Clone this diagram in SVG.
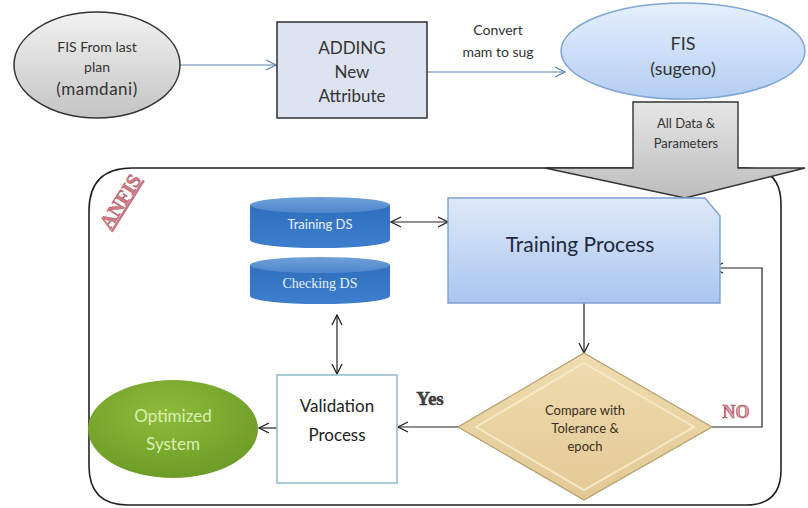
<svg xmlns="http://www.w3.org/2000/svg" width="808" height="508" viewBox="0 0 808 508">
<defs>
<linearGradient id="gGray" x1="0" y1="0" x2="0" y2="1"><stop offset="0" stop-color="#f2f2f2"/><stop offset="1" stop-color="#c4c4c4"/></linearGradient>
<linearGradient id="gFis" x1="0" y1="0" x2="0" y2="1"><stop offset="0" stop-color="#e6f0fd"/><stop offset="1" stop-color="#b4cdf3"/></linearGradient>
<linearGradient id="gArrow" x1="0" y1="0" x2="0" y2="1"><stop offset="0" stop-color="#e6e6e6"/><stop offset="1" stop-color="#bdbdbd"/></linearGradient>
<linearGradient id="gTrain" x1="0" y1="0" x2="0" y2="1"><stop offset="0" stop-color="#dfe9f8"/><stop offset="1" stop-color="#a9c6f1"/></linearGradient>
<linearGradient id="gCyl" x1="0" y1="0" x2="0" y2="1"><stop offset="0" stop-color="#2f6fbd"/><stop offset="1" stop-color="#3d7fce"/></linearGradient>
<linearGradient id="gCylTop" x1="0" y1="0" x2="0" y2="1"><stop offset="0" stop-color="#6fa0da"/><stop offset="1" stop-color="#4f87cc"/></linearGradient>
<radialGradient id="gGreen" cx="0.45" cy="0.35" r="0.7"><stop offset="0" stop-color="#8ebc3a"/><stop offset="1" stop-color="#6a9a25"/></radialGradient>
<linearGradient id="gDia" x1="0" y1="0" x2="0" y2="1"><stop offset="0" stop-color="#efdcaf"/><stop offset="1" stop-color="#e3c995"/></linearGradient>
<marker id="ah" viewBox="0 0 12 12" refX="11" refY="6" markerWidth="12" markerHeight="12" markerUnits="userSpaceOnUse" orient="auto-start-reverse">
<path d="M1,1 L11,6 L1,11" fill="none" stroke="#222" stroke-width="1.3"/>
</marker>
<marker id="ahb" viewBox="0 0 12 12" refX="11" refY="6" markerWidth="12" markerHeight="12" markerUnits="userSpaceOnUse" orient="auto">
<path d="M1,1 L11,6 L1,11" fill="none" stroke="#5b84b0" stroke-width="1.3"/>
</marker>
<style>
.t{font-family:Lato,"Open Sans","Liberation Sans",sans-serif;text-anchor:middle;fill:#333}
.c{fill:none;stroke:#222;stroke-width:1.2}
.cb{fill:none;stroke:#5b84b0;stroke-width:1.2}
</style>
</defs>

<g id="anfis-frame">
<path d="M132,168 L745,168 Q781,168 781,204 L781,470 Q781,505 746,505 L128,505 Q89,505 89,466 L89,211 Q89,168 132,168 Z" fill="#fff" stroke="#222" stroke-width="1.6"/>
<text x="126" y="205" transform="rotate(-58 126 205)" font-family="Liberation Serif,serif" font-weight="bold" font-size="20" fill="#d07a85" stroke="#a84050" stroke-width="0.4" text-anchor="middle" text-decoration="underline">ANFIS</text>
</g>

<g id="big-arrow">
<path d="M633,102 L738,102 L738,168 L805,168 L685,198 L545,168 L633,168 Z" fill="url(#gArrow)" stroke="#333" stroke-width="1.4"/>
<text class="t" x="686" y="128" font-size="13">All Data &amp;</text>
<text class="t" x="686" y="148" font-size="13">Parameters</text>
</g>

<g id="connectors">
<line class="cb" x1="180" y1="65" x2="276" y2="65" marker-end="url(#ahb)"/>
<line class="cb" x1="427" y1="72" x2="565" y2="72" marker-end="url(#ahb)"/>
<line class="c" x1="391" y1="222" x2="448" y2="222" marker-start="url(#ah)" marker-end="url(#ah)"/>
<line class="c" x1="584" y1="303" x2="584" y2="353" marker-end="url(#ah)"/>
<polyline class="c" points="712,427 762,427 762,268 713,268" marker-end="url(#ah)"/>
<line class="c" x1="458" y1="427" x2="398" y2="427" marker-end="url(#ah)"/>
<line class="c" x1="337" y1="315" x2="337" y2="374" marker-start="url(#ah)" marker-end="url(#ah)"/>
<line class="c" x1="277" y1="428" x2="259" y2="428" marker-end="url(#ah)"/>
</g>

<g id="fis-mamdani">
<ellipse cx="97" cy="65" rx="83" ry="53" fill="url(#gGray)" stroke="#333" stroke-width="1.5"/>
<text class="t" x="97" y="52" font-size="14">FIS From last</text>
<text class="t" x="97" y="72" font-size="14">plan</text>
<text class="t" x="97" y="95" font-size="17" letter-spacing="0.5">(mamdani)</text>
</g>

<g id="adding">
<rect x="277" y="22" width="150" height="96" fill="#dde3f0" stroke="#222" stroke-width="1.4"/>
<text class="t" x="352" y="54" font-size="17">ADDING</text>
<text class="t" x="352" y="78" font-size="17">New</text>
<text class="t" x="352" y="102" font-size="17">Attribute</text>
</g>

<g id="convert-label">
<text class="t" x="498" y="35" font-size="14">Convert</text>
<text class="t" x="498" y="57" font-size="14">mam  to sug</text>
</g>

<g id="fis-sugeno">
<ellipse cx="683" cy="51" rx="122" ry="48" fill="url(#gFis)" stroke="#7fa6d6" stroke-width="1.5"/>
<text class="t" x="683" y="50" font-size="18">FIS</text>
<text class="t" x="683" y="75" font-size="18">(sugeno)</text>
</g>

<g id="training-ds">
<path d="M250,205 L250,240 A70,8 0 0 0 390,240 L390,205 Z" fill="url(#gCyl)"/>
<ellipse cx="320" cy="205" rx="70" ry="8" fill="url(#gCylTop)"/>
<text class="t" x="320" y="229" font-size="13" style="fill:#e8f0fb">Training DS</text>
</g>

<g id="checking-ds">
<path d="M250,265 L250,296 A70,8 0 0 0 390,296 L390,265 Z" fill="url(#gCyl)"/>
<ellipse cx="320" cy="265" rx="70" ry="8" fill="url(#gCylTop)"/>
<text x="320" y="288" font-family="'Liberation Serif',serif" font-size="14" fill="#e8f0fb" text-anchor="middle">Checking DS</text>
</g>

<g id="training-process">
<path d="M448,198 L705,198 L720,216 L720,303 L448,303 Z" fill="url(#gTrain)" stroke="#7f9fcc" stroke-width="1.4"/>
<text class="t" x="580" y="252" font-size="21" style="fill:#1f2840">Training Process</text>
</g>

<g id="compare">
<polygon points="584,353 712,427 584,500 458,427" fill="url(#gDia)" stroke="#b59d6a" stroke-width="1.2"/>
<polygon points="584,363 694,427 584,490 476,427" fill="none" stroke="#f6e9c8" stroke-width="2"/>
<text class="t" x="585" y="415" font-size="13" style="fill:#3a3020">Compare with</text>
<text class="t" x="585" y="433" font-size="13" style="fill:#3a3020">Tolerance &amp;</text>
<text class="t" x="585" y="451" font-size="13" style="fill:#3a3020">epoch</text>
</g>

<g id="yes-label">
<text x="430" y="405" font-family="'Liberation Serif',serif" font-weight="bold" font-size="19" fill="#444" stroke="#222" stroke-width="0.4" text-anchor="middle">Yes</text>
</g>

<g id="no-label">
<text x="736" y="418" font-family="'Liberation Serif',serif" font-weight="bold" font-size="18" fill="#e0a0a8" stroke="#a04050" stroke-width="0.6" text-anchor="middle">NO</text>
</g>

<g id="validation">
<rect x="277" y="375" width="120" height="108" fill="#fff" stroke="#8fb9c6" stroke-width="1.5"/>
<text class="t" x="337" y="412" font-size="17" style="fill:#222">Validation</text>
<text class="t" x="337" y="441" font-size="17" style="fill:#222">Process</text>
</g>

<g id="optimized">
<ellipse cx="173" cy="429" rx="85" ry="49" fill="url(#gGreen)"/>
<text class="t" x="173" y="422" font-size="17" style="fill:#d9f0b2">Optimized</text>
<text class="t" x="173" y="450" font-size="17" style="fill:#d9f0b2">System</text>
</g>
</svg>
